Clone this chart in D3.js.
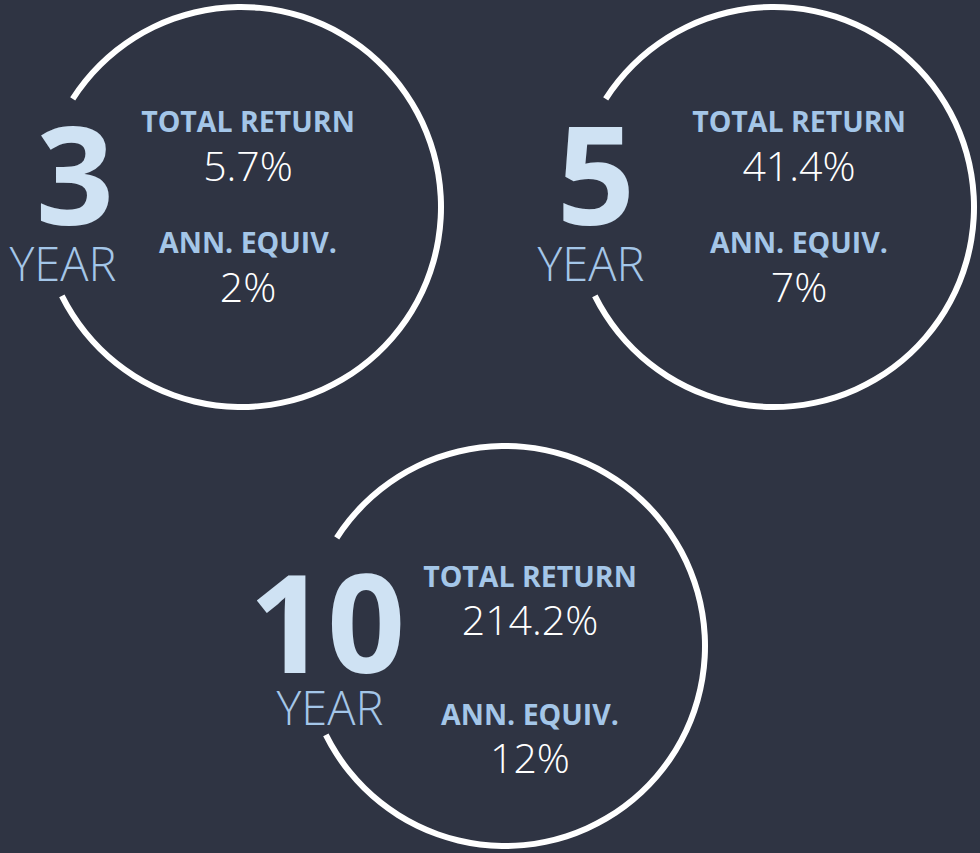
<!DOCTYPE html>
<html lang="en">
<head>
  <meta charset="UTF-8">
  <title>Total Return Circles</title>
  <script src="https://d3js.org/d3.v7.min.js"></script>
  <style>
    body {
      margin: 0;
      padding: 0;
      background: #2f3443;
      overflow: hidden;
    }
    text { font-family: "Open Sans", "Noto Sans", sans-serif; }
  </style>
</head>
<body>
  <svg id="chart" width="980" height="853"></svg>

  <script>
    // Data
    const periods = ["3", "5", "10"];
    const periodUnit = "YEAR";
    const totalReturn = [5.7, 41.4, 214.2];
    const annEquiv = [2, 7, 12];
    const labels = ["TOTAL RETURN", "ANN. EQUIV."];

    // Layout of each panel (circle centre + text offsets)
    const centerX = d3.scaleOrdinal().domain(periods).range([241, 774, 505]);
    const centerY = d3.scaleOrdinal().domain(periods).range([207, 207, 646]);
    const textDx = d3.scaleOrdinal().domain(periods).range([7, 25, 25]);
    const numDx = d3.scaleOrdinal().domain(periods).range([-166, -178, -178]);
    const unitDx = d3.scaleOrdinal().domain(periods).range([-178, -183, -175]);
    // vertical offsets: [label1, value1, label2, value2, bigNumber, unit]
    const rowDy = d3.scaleOrdinal().domain(periods).range([
      [-75, -26, 46, 95, 18, 74],
      [-75, -26, 46, 95, 18, 74],
      [-59, -11, 79, 127, 27, 79]
    ]);

    const radius = 200;
    const stroke = 6;
    const deg = Math.PI / 180;

    const svg = d3.select("#chart");

    // Ring with a gap on the left where the big number sits
    const ring = d3.arc()
      .innerRadius(radius - stroke / 2)
      .outerRadius(radius + stroke / 2)
      .startAngle(-57.3 * deg)
      .endAngle(243.6 * deg);

    const fmtTotal = d => d3.format(".1f")(d) + "%";
    const fmtAnn = d => d3.format("d")(d) + "%";

    const panels = periods.map((p, i) => ({
      period: p,
      total: totalReturn[i],
      ann: annEquiv[i]
    }));

    const g = svg.selectAll("g.panel")
      .data(panels)
      .enter()
      .append("g")
      .attr("class", "panel")
      .attr("transform", d => `translate(${centerX(d.period)},${centerY(d.period)})`);

    g.append("path")
      .attr("d", ring)
      .attr("fill", "#ffffff");

    // Big period number
    g.append("text")
      .attr("x", d => numDx(d.period))
      .attr("y", d => rowDy(d.period)[4])
      .attr("text-anchor", "middle")
      .attr("font-size", 137)
      .attr("font-weight", 700)
      .attr("fill", "#cfe2f3")
      .text(d => d.period);

    g.append("text")
      .attr("x", d => unitDx(d.period))
      .attr("y", d => rowDy(d.period)[5])
      .attr("text-anchor", "middle")
      .attr("font-size", 47)
      .attr("font-weight", 300)
      .attr("fill", "#a4c6e8")
      .text(periodUnit);

    // Labels and values
    const rows = [
      { text: () => labels[0], idx: 0, bold: true },
      { text: d => fmtTotal(d.total), idx: 1, bold: false },
      { text: () => labels[1], idx: 2, bold: true },
      { text: d => fmtAnn(d.ann), idx: 3, bold: false }
    ];

    rows.forEach(r => {
      g.append("text")
        .attr("x", d => textDx(d.period))
        .attr("y", d => rowDy(d.period)[r.idx])
        .attr("text-anchor", "middle")
        .attr("font-size", r.bold ? 28.5 : 41)
        .attr("font-weight", r.bold ? 700 : 300)
        .attr("fill", r.bold ? "#a4c6e8" : "#ffffff")
        .text(r.text);
    });
  </script>
</body>
</html>
